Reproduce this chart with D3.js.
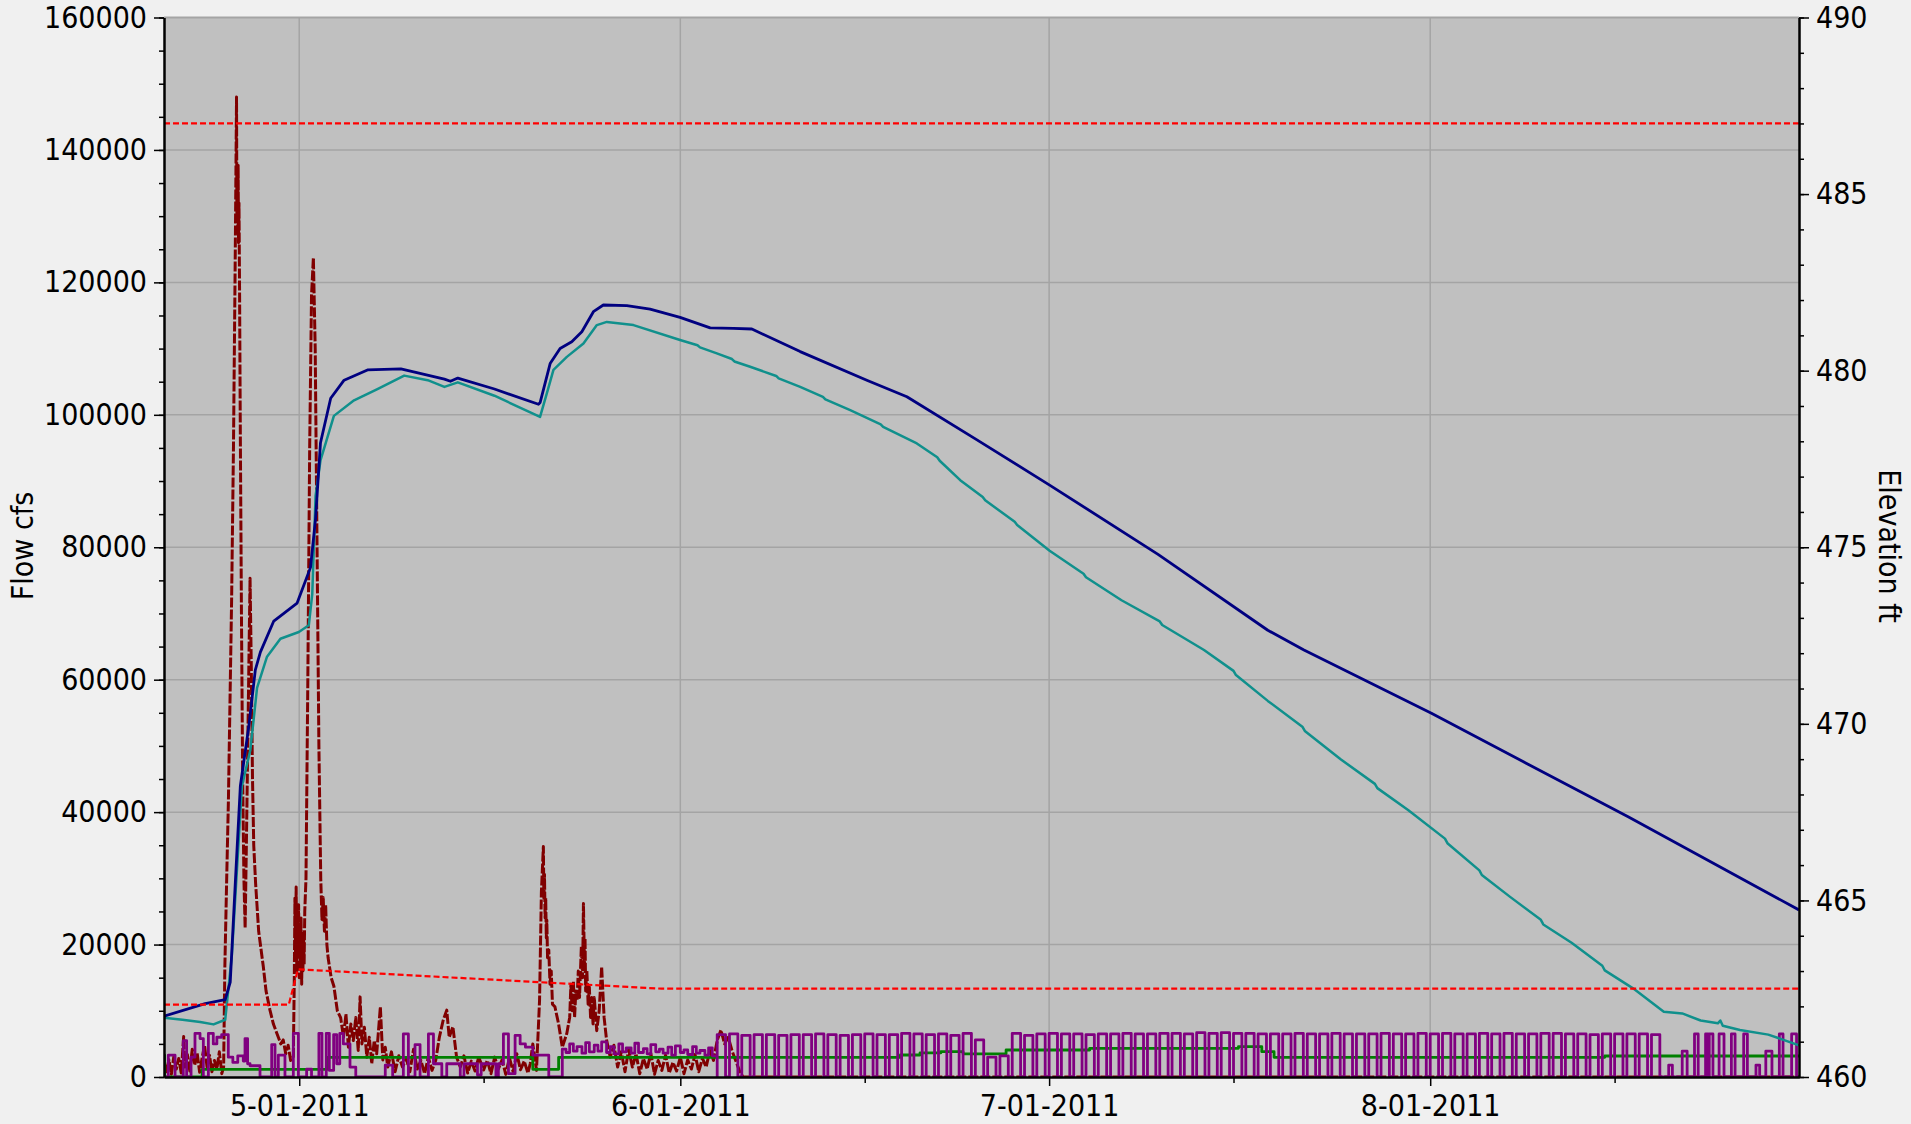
<!DOCTYPE html>
<html>
<head>
<meta charset="utf-8">
<script src="https://cdn.jsdelivr.net/npm/d3@7"></script>
<style>
  body { margin: 0; background: #f0f0f0; }
  text { font-family: "DejaVu Sans Condensed", "DejaVu Sans", sans-serif; font-stretch: condensed; }
</style>
</head>
<body>
<div id="chart"></div>
<script>
// day offsets are counted from 2011-04-20 (UTC)
var startDay = "2011-04-20";
var endDay = "2011-08-31";
var monthTicks = ["2011-05-01", "2011-06-01", "2011-07-01", "2011-08-01"];
var midTicks = ["2011-05-16", "2011-06-16", "2011-07-16", "2011-08-16"];
var flowTicks = [0, 20000, 40000, 60000, 80000, 100000, 120000, 140000, 160000];
var elevTicks = [460, 465, 470, 475, 480, 485, 490];

// elevation series (ft)
var poolA = [[0,461.72],[3.35,462.08],[4.98,462.19],[5.39,462.69],[5.8,465.5],[6.21,468.24],[6.88,469.88],[7.43,471.53],[7.84,472.03],[8.93,472.91],[10.83,473.42],[11.92,474.43],[12.33,475.82],[12.73,477.96],[13.56,479.22],[14.65,479.73],[16.55,480.02],[19.27,480.05],[22.81,479.76],[23.3,479.7],[23.9,479.79],[26.88,479.48],[30.46,479.05],[30.6,479.1],[31.41,480.2],[32.22,480.63],[33.17,480.82],[33.99,481.1],[34.93,481.67],[35.74,481.86],[37.65,481.84],[39.54,481.74],[41.98,481.51],[44.43,481.21],[46.32,481.2],[47.82,481.18],[51.75,480.54],[57.17,479.73],[60.43,479.26],[66,478.07],[72.04,476.76],[80.86,474.8],[89.79,472.65],[92.73,472.09],[103.1,470.3],[111,468.85],[119.1,467.37],[133,464.73]];
var poolB = [[0,461.68],[1.5,461.62],[2.94,461.56],[4.03,461.49],[4.98,461.62],[5.52,463.45],[6.34,468.24],[7.02,469.25],[7.57,471.02],[8.38,471.9],[9.47,472.41],[10.97,472.6],[11.78,472.79],[12.06,473.67],[12.33,476.45],[12.73,477.46],[13.82,478.72],[15.46,479.16],[17.36,479.48],[19.54,479.86],[21.45,479.73],[22.81,479.54],[23.9,479.67],[26.88,479.29],[30.59,478.69],[31.24,479.48],[31.68,480.02],[32.77,480.39],[34.12,480.77],[35.21,481.29],[36.02,481.38],[38.19,481.29],[41.98,480.87],[43.4,480.72],[43.6,480.66],[44.97,480.49],[46.2,480.33],[46.4,480.26],[47.68,480.11],[49.8,479.85],[50.0,479.78],[51.75,479.54],[53.6,479.26],[53.8,479.19],[55.82,478.88],[58.3,478.48],[58.5,478.41],[61.24,477.94],[62.9,477.55],[63.1,477.45],[64.77,476.9],[66.6,476.42],[66.8,476.33],[69.2,475.72],[69.4,475.63],[72.04,474.9],[74.8,474.25],[75.0,474.15],[77.89,473.5],[81.0,472.9],[81.2,472.8],[84.6,472.09],[87.0,471.5],[87.2,471.38],[89.79,470.65],[92.6,469.92],[92.8,469.8],[95.74,468.99],[98.5,468.3],[98.7,468.18],[101.2,467.56],[104.2,466.75],[104.4,466.62],[107.0,465.85],[107.2,465.72],[109.5,465.1],[112.0,464.45],[112.2,464.32],[114.5,463.8],[117.0,463.15],[117.2,463.02],[119.5,462.51],[122,461.85],[123.5,461.8],[125,461.6],[126.4,461.52],[126.6,461.6],[126.8,461.45],[128.2,461.33],[130.5,461.2],[133,460.9]];
var topFlood = [[0,487],[133,487]];
var guideCurve = [[0,462.05],[10.15,462.05],[10.9,463.05],[40.5,462.5],[133,462.5]];

// flow series (cfs)
var inflow = [[0,2200],[0.2,800],[0.4,2600],[0.6,400],[0.8,3100],[1.0,1200],[1.2,2800],[1.4,600],[1.6,6100],[1.7,1500],[1.9,3400],[2.1,900],[2.3,4200],[2.5,1800],[2.7,3600],[2.9,700],[3.1,2900],[3.3,4800],[3.5,1500],[3.7,3300],[3.9,800],[4.1,2500],[4.3,1200],[4.5,3800],[4.7,500],[4.85,1500],
  [4.95,16600],[5.1,30000],[5.24,41800],[5.37,56900],[5.5,72000],[5.65,95000],[5.8,125000],[5.9,148000],[5.93,130000],[5.96,138000],[6.0,128000],[6.03,137700],[6.06,126000],[6.1,132000],[6.15,118000],[6.2,100000],[6.3,70000],[6.4,45000],[6.5,30000],[6.6,22500],[6.7,35000],[6.85,55000],[7.0,75300],[7.1,62000],[7.2,45000],[7.3,35000],[7.45,29300],[7.7,22000],[8.08,16650],[8.3,13000],[8.62,10100],[8.9,8000],[9.2,6500],[9.5,5000],[9.7,5600],[9.9,3500],[10.1,4800],[10.3,2500],[10.52,3060],
  [10.6,15000],[10.65,27000],[10.7,18000],[10.75,28700],[10.8,16000],[10.85,25000],[10.9,19000],[10.95,26000],[11.0,15000],[11.05,23000],[11.1,17000],[11.15,24000],[11.2,14000],[11.25,22000],[11.3,16000],[11.35,21700],[11.4,17000],[11.45,25000],[11.55,30000],[11.7,60000],[11.85,95000],[12.0,118000],[12.15,123700],[12.3,110000],[12.45,80000],[12.6,50000],[12.75,30000],[12.85,23800],[12.95,27100],[13.05,22000],[13.15,26000],[13.25,20000],[13.35,18000],[13.6,15000],[13.82,13700],[14.1,10000],[14.37,8950],[14.6,6000],[14.8,9500],[15.0,4500],[15.2,8000],[15.4,5500],[15.6,9000],[15.8,4000],[15.95,12100],[16.1,5000],[16.3,7500],[16.5,3000],[16.7,6000],[16.9,2000],[17.1,5500],[17.3,3500],[17.6,10600],[17.8,2570],[18.0,4500],[18.2,1500],[18.5,3800],[18.8,800],[19.1,3200],[19.4,1500],[19.7,2800],[20.0,800],[20.3,4200],[20.6,1200],[20.9,2500],[21.2,500],[21.5,3000],[21.8,1000],[22.1,2500],[22.4,6000],[22.7,8500],[23.0,10100],[23.2,6000],[23.5,7600],[23.8,3000],[24.1,1500],[24.4,3200],[24.7,600],[25.0,2400],[25.3,900],[25.6,3000],[26.0,1060],[26.3,2500],[26.6,500],[26.9,3000],[27.2,1200],[27.5,2600],[27.8,400],[28.1,2900],[28.4,800],[28.7,3500],[29.0,1100],[29.3,2400],[29.6,600],[29.8,2070],
  [30.0,5000],[30.3,1000],[30.55,11600],[30.7,28000],[30.86,34800],[30.9,27000],[30.95,30600],[31.0,24000],[31.05,27000],[31.1,21000],[31.14,23700],[31.2,18000],[31.3,19200],[31.4,14000],[31.5,16000],[31.6,11000],[31.8,10600],[32.1,8000],[32.4,4500],[32.77,6600],[33.0,9000],[33.1,14000],[33.2,10000],[33.3,14500],[33.4,9000],[33.5,13000],[33.6,11600],[33.7,16000],[33.8,12000],[33.95,19700],[34.05,15000],[34.12,26200],[34.2,17000],[34.25,21000],[34.3,13000],[34.4,16000],[34.5,11000],[34.6,13600],[34.7,9000],[34.8,12000],[34.9,8000],[35.0,12000],[35.2,7000],[35.4,10000],[35.6,16650],[35.8,9000],[36.0,5600],[36.3,3000],[36.6,4800],[36.9,1500],[37.2,3800],[37.5,800],[37.8,4200],[38.1,1500],[38.4,3500],[38.7,500],[39.0,2800],[39.3,1200],[39.6,3600],[39.9,400],[40.2,2500],[40.5,1000],[40.8,3300],[41.1,600],[41.4,2200],[41.7,900],[42.0,3000],[42.3,500],[42.6,2600],[42.9,1200],[43.2,3400],[43.5,800],[43.8,2800],[44.1,1500],[44.4,4000],[44.7,2500],[45.0,5500],[45.3,7100],[45.6,5000],[45.9,6000],[46.2,4000],[46.5,2500],[46.8,1000],[47.1,0],[133,0]];

var genEarly = [[0,0],[0.35,3300],[0.9,0],[1.57,5500],[1.84,0],[2.2,3000],[2.52,6600],[2.93,5800],[3.2,0],[3.61,6600],[4.01,5000],[4.3,6000],[4.69,6400],[5.23,3000],[5.6,2200],[6.0,3200],[6.45,2400],[6.59,5800],[6.8,2000],[7.0,1700],[7.81,0],[8.76,4900],[9.03,0],[9.3,3300],[9.84,0],[10.52,6600],[10.93,0],[11.6,1200],[12.0,0],[12.6,6600],[12.85,0],[13.2,6600],[13.45,1000],[13.8,6400],[14.05,2000],[14.3,6600],[14.59,5000],[15.13,1500],[15.6,0],[18.0,1800],[18.6,0],[19.47,6500],[19.88,0],[20.42,4900],[20.83,0],[21.51,6500],[21.92,2000],[22.6,0],[23.0,2000],[24.1,0],[24.4,2000],[25.5,300],[25.8,2000],[27.0,0],[27.2,2000],[27.61,6500],[28.02,500],[28.56,6300],[28.97,5000],[29.4,4500],[30.0,3300],[31.3,0],[32.4,4200],[32.7,3700],[33.0,5000],[33.3,3900],[33.6,4600],[34.0,3600],[34.3,5200],[34.6,3800],[35.0,4800],[35.3,3900],[35.6,5300],[36.0,3700],[36.3,4600],[36.6,3500],[37.0,5000],[37.3,3800],[37.6,4400],[38.0,3600],[38.3,5100],[38.6,3700],[39.0,4300],[39.3,3500],[39.6,4900],[40.0,3800],[40.3,4200],[40.6,3600],[41.0,4500],[41.3,3300],[41.6,4700],[42.0,3700],[42.3,4100],[42.6,3400],[43.0,4600],[43.3,3600],[43.6,4000],[44.0,3300],[44.3,4400],[44.6,3200],[45.0,0]];
// daily generation peaks, one pulse per day from day 45 to day 121
var genFirstDay = 45;
var genPeaks = [6400,6500,6300,6400,6400,6300,6400,6400,6500,6400,6300,6400,6500,6400,6400,6600,6500,6400,6500,6300,6600,5600,3000,3200,6600,6300,6500,6600,6500,6500,6400,6500,6500,6600,6500,6500,6600,6600,6500,6700,6600,6700,6600,6600,6500,6500,6500,6600,6500,6500,6600,6500,6500,6500,6600,6500,6500,6600,6500,6600,6500,6500,6600,6500,6600,6500,6500,6600,6600,6500,6500,6400,6500,6500,6500,6500,6400];
var genOnFrac = 0.68;
var genLate = [[121.68,0],[122.4,1800],[122.7,0],[123.5,3900],[123.9,0],[124.5,6500],[124.8,0],[125.4,6500],[125.6,0],[125.7,6500],[126.0,0],[126.5,6500],[126.9,0],[127.5,6500],[127.8,0],[128.5,6500],[128.8,0],[129.5,1800],[129.8,0],[130.3,3900],[130.8,0],[131.4,6500],[131.7,0],[132.4,6500],[132.8,0],[133,0]];

var baseFlow = [[0,3300],[0.05,0],[3.1,1160],[13.3,2970],[30.0,1160],[32.1,2970],[59.9,3320],[61.5,3650],[63.2,3830],[65.0,3500],[68.5,4080],[75.3,4330],[87.4,4580],[89.3,3830],[90.3,2970],[117.2,3170],[133,3170]];

var width = 1911;
var height = 1124;
var plotL = 164, plotR = 1799, plotT = 17.5, plotB = 1077;

var parseDay = d3.utcParse("%Y-%m-%d");
var t0 = parseDay(startDay);
function toDate(d){ return new Date(t0.getTime() + d * 864e5); }

var x = d3.scaleUtc().domain([t0, parseDay(endDay)]).range([plotL, plotR]);
var yFlow = d3.scaleLinear().domain([0, 160000]).range([plotB, plotT]);
var yElev = d3.scaleLinear().domain([460, 490]).range([plotB, plotT]);

var svg = d3.select("#chart").append("svg")
	.attr("width", width)
	.attr("height", height)
	.style("display", "block")
	.style("background", "#f0f0f0");

svg.append("rect")
	.attr("x", plotL).attr("y", plotT)
	.attr("width", plotR - plotL).attr("height", plotB - plotT)
	.attr("fill", "#c0c0c0");

svg.append("line")
	.attr("x1", plotL).attr("x2", plotR)
	.attr("y1", plotT).attr("y2", plotT)
	.attr("stroke", "#a4a4a4").attr("stroke-width", 2);

//grid
var grid = svg.append("g");
grid.selectAll("line.h")
	.data(flowTicks.slice(1, -1))
	.enter().append("line")
	.attr("x1", plotL).attr("x2", plotR)
	.attr("y1", function(d){ return yFlow(d); })
	.attr("y2", function(d){ return yFlow(d); })
	.attr("stroke", "#a4a4a4").attr("stroke-width", 1.5);
grid.selectAll("line.v")
	.data(monthTicks)
	.enter().append("line")
	.attr("x1", function(d){ return x(parseDay(d)); })
	.attr("x2", function(d){ return x(parseDay(d)); })
	.attr("y1", plotT).attr("y2", plotB)
	.attr("stroke", "#a4a4a4").attr("stroke-width", 1.5);

var plot = svg.append("g");
plot.append("clipPath").attr("id", "clip")
	.append("rect").attr("x", plotL).attr("y", plotT - 2).attr("width", plotR - plotL).attr("height", plotB - plotT + 2);

function drawLine(data, yScale, color, w, dash, curve){
	var line = d3.line()
		.x(function(d){ return x(toDate(d[0])); })
		.y(function(d){ return yScale(d[1]); })
		.curve(curve || d3.curveLinear);
	plot.append("path")
		.attr("d", line(data))
		.attr("clip-path", "url(#clip)")
		.attr("fill", "none")
		.attr("stroke", color)
		.attr("stroke-width", w)
		.attr("stroke-linejoin", "round")
		.attr("stroke-dasharray", dash || null);
}

// build generation step series from the daily peaks
var genData = genEarly.slice();
genPeaks.forEach(function(v, i){
	var day = genFirstDay + i;
	genData.push([day, v]);
	genData.push([day + genOnFrac, 0]);
});
genData = genData.concat(genLate);

drawLine(inflow, yFlow, "#800000", 3, "10,2");
drawLine(baseFlow, yFlow, "#008000", 2.8, null, d3.curveStepAfter);
drawLine(genData, yFlow, "#800080", 2.8, null, d3.curveStepAfter);
drawLine(poolB, yElev, "#10908c", 2.5);
drawLine(poolA, yElev, "#000080", 2.8);
drawLine(topFlood, yElev, "#ff0000", 2.2, "6,3");
drawLine(guideCurve, yElev, "#ff0000", 2.2, "6,3");

// axes
function styleAxis(g){
	g.selectAll("text").style("font-size", "30px").attr("fill", "#000");
	g.selectAll("line").attr("stroke", "#000").attr("stroke-width", 1.5);
	g.select(".domain").attr("stroke", "#000").attr("stroke-width", 2);
}

var flowMinor = d3.range(0, 160001, 5000);
var elevMinor = d3.range(460, 491, 1);

svg.append("g").attr("transform", "translate(" + plotL + ",0)")
	.call(d3.axisLeft(yFlow).tickValues(flowMinor).tickSize(5).tickSizeOuter(0).tickFormat(""))
	.call(styleAxis);
svg.append("g").attr("transform", "translate(" + plotL + ",0)")
	.call(d3.axisLeft(yFlow).tickValues(flowTicks).tickSize(10).tickSizeOuter(0).tickPadding(7).tickFormat(d3.format("d")))
	.call(styleAxis);

svg.append("g").attr("transform", "translate(" + plotR + ",0)")
	.call(d3.axisRight(yElev).tickValues(elevMinor).tickSize(5).tickSizeOuter(0).tickFormat(""))
	.call(styleAxis);
svg.append("g").attr("transform", "translate(" + plotR + ",0)")
	.call(d3.axisRight(yElev).tickValues(elevTicks).tickSize(10).tickSizeOuter(0).tickPadding(7).tickFormat(d3.format("d")))
	.call(styleAxis);

svg.append("g").attr("transform", "translate(0," + plotB + ")")
	.call(d3.axisBottom(x).tickValues(midTicks.map(parseDay)).tickSize(6).tickSizeOuter(0).tickFormat(""))
	.call(styleAxis);
svg.append("g").attr("transform", "translate(0," + plotB + ")")
	.call(d3.axisBottom(x).tickValues(monthTicks.map(parseDay)).tickSize(9).tickSizeOuter(0).tickPadding(9).tickFormat(d3.utcFormat("%-m-%d-%Y")))
	.call(styleAxis);

// axis titles
svg.append("text")
	.attr("transform", "translate(22,546) rotate(-90)")
	.attr("text-anchor", "middle")
	.attr("dominant-baseline", "central")
	.style("font-size", "30px")
	.text("Flow cfs");

svg.append("text")
	.attr("transform", "translate(1889,546) rotate(90)")
	.attr("text-anchor", "middle")
	.attr("dominant-baseline", "central")
	.style("font-size", "30px")
	.text("Elevation ft");
</script>
</body>
</html>
